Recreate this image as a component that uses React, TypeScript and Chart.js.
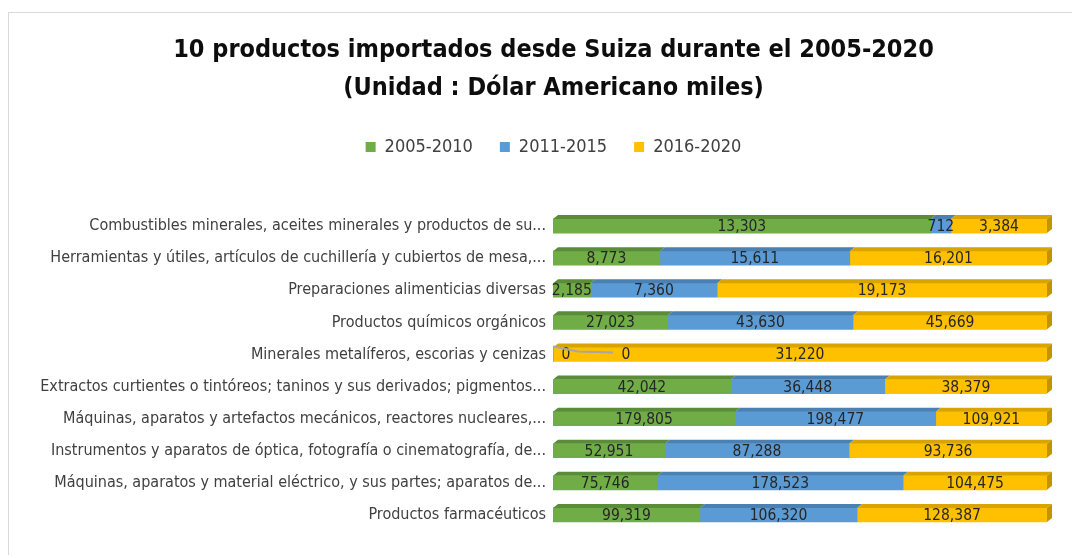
import React, { useEffect, useRef } from "react";
import { Chart, registerables } from "chart.js";

Chart.register(...registerables);

const categories = [
  "Combustibles minerales, aceites minerales y productos de su...",
  "Herramientas y útiles, artículos de cuchillería y cubiertos de mesa,...",
  "Preparaciones alimenticias diversas",
  "Productos químicos orgánicos",
  "Minerales metalíferos, escorias y cenizas",
  "Extractos curtientes o tintóreos; taninos y sus derivados; pigmentos...",
  "Máquinas, aparatos y artefactos mecánicos, reactores nucleares,...",
  "Instrumentos y aparatos de óptica, fotografía o cinematografía, de...",
  "Máquinas, aparatos y material eléctrico, y sus partes; aparatos de...",
  "Productos farmacéuticos",
];

const seriesNames = ["2005-2010", "2011-2015", "2016-2020"];
const values2005_2010 = [13303, 8773, 2185, 27023, 0, 42042, 179805, 52951, 75746, 99319];
const values2011_2015 = [712, 15611, 7360, 43630, 0, 36448, 198477, 87288, 178523, 106320];
const values2016_2020 = [3384, 16201, 19173, 45669, 31220, 38379, 109921, 93736, 104475, 128387];

const titleLines = [
  "10 productos importados desde Suiza durante el 2005-2020",
  "(Unidad : Dólar Americano miles)",
];

const colors = ["#70AD47", "#5B9BD5", "#FFC000"];
const topColors = ["#5A8D38", "#4A80B2", "#D9A300"];
const sideColors = ["#4F7D31", "#3F6F9C", "#C49300"];

const FONT = '"Liberation Sans Narrow", "DejaVu Sans Condensed", "Liberation Sans", sans-serif';

const rawSeries = [values2005_2010, values2011_2015, values2016_2020];
const totals = categories.map((_, i) => rawSeries.reduce((s, arr) => s + arr[i], 0));

const fmt = (v: number) => v.toLocaleString("en-US");

const bar3dPlugin = {
  id: "bar3d",
  afterDatasetsDraw(chart: any) {
    const ctx = chart.ctx;
    const dx = 5;
    const dy = 4;
    ctx.save();
    const metas = chart.data.datasets.map((_: any, i: number) => chart.getDatasetMeta(i));
    metas.forEach((meta: any, di: number) => {
      meta.data.forEach((el: any) => {
        const p = el.getProps(["x", "y", "base", "height"], true);
        const x0 = Math.min(p.base, p.x);
        const x1 = Math.max(p.base, p.x);
        if (x1 - x0 < 0.5) return;
        const top = p.y - p.height / 2;
        ctx.fillStyle = topColors[di];
        ctx.beginPath();
        ctx.moveTo(x0, top);
        ctx.lineTo(x1, top);
        ctx.lineTo(x1 + dx, top - dy);
        ctx.lineTo(x0 + dx, top - dy);
        ctx.closePath();
        ctx.fill();
      });
    });
    const last = metas.length - 1;
    metas[last].data.forEach((el: any) => {
      const p = el.getProps(["x", "y", "base", "height"], true);
      const top = p.y - p.height / 2;
      const bottom = p.y + p.height / 2;
      ctx.fillStyle = sideColors[last];
      ctx.beginPath();
      ctx.moveTo(p.x, top);
      ctx.lineTo(p.x + dx, top - dy);
      ctx.lineTo(p.x + dx, bottom - dy);
      ctx.lineTo(p.x, bottom);
      ctx.closePath();
      ctx.fill();
    });
    ctx.font = `15.5px ${FONT}`;
    ctx.fillStyle = "#262626";
    ctx.textAlign = "center";
    ctx.textBaseline = "middle";
    metas.forEach((meta: any, di: number) => {
      meta.data.forEach((el: any, i: number) => {
        const p = el.getProps(["x", "y", "base", "height"], true);
        const raw = rawSeries[di][i];
        let cx = (p.x + p.base) / 2;
        if (raw === 0) {
          cx = p.base + 13 + di * 60;
          if (di === 1) {
            const top = p.y - p.height / 2;
            ctx.save();
            ctx.strokeStyle = "#A6A6A6";
            ctx.lineWidth = 2;
            ctx.beginPath();
            ctx.moveTo(p.base, top - 1);
            ctx.lineTo(p.base + 25, top + 4);
            ctx.lineTo(p.base + 60, top + 5);
            ctx.stroke();
            ctx.restore();
          }
        }
        ctx.fillText(fmt(raw), cx, p.y + 1);
      });
    });
    ctx.restore();
  },
};

export default function App() {
  const canvasRef = useRef<HTMLCanvasElement | null>(null);

  useEffect(() => {
    if (!canvasRef.current) return;
    const datasets = rawSeries.map((arr, di) => ({
      label: seriesNames[di],
      data: arr.map((v, i) => (v / totals[i]) * 100),
      backgroundColor: colors[di],
      borderWidth: 0,
      barThickness: 14,
    }));
    const chart = new Chart(canvasRef.current, {
      type: "bar",
      data: { labels: categories, datasets },
      plugins: [bar3dPlugin],
      options: {
        indexAxis: "y",
        responsive: false,
        animation: false,
        layout: { padding: { left: 0, right: 0, top: 0, bottom: 24 } },
        plugins: {
          title: {
            display: true,
            text: titleLines,
            color: "#0D0D0D",
            font: { family: FONT, size: 25, weight: "bold", lineHeight: 38 / 25 },
            padding: { top: 18, bottom: 4 },
          },
          legend: {
            display: true,
            position: "top",
            labels: {
              boxWidth: 10,
              boxHeight: 10,
              padding: 27,
              color: "#404040",
              font: { family: FONT, size: 18 },
            },
          },
          tooltip: { enabled: false },
        },
        scales: {
          x: {
            type: "linear",
            position: "top",
            stacked: true,
            min: 0,
            max: 100,
            display: true,
            grid: { display: false, drawTicks: false },
            border: { display: false },
            ticks: { display: false },
            afterFit: (s: any) => {
              s.height = 44;
            },
          },
          y: {
            type: "category",
            position: "left",
            stacked: true,
            grid: { display: false, drawTicks: false },
            border: { display: false },
            ticks: {
              autoSkip: false,
              padding: 7,
              color: "#404040",
              font: { family: FONT, size: 16 },
            },
            afterFit: (s: any) => {
              s.width = 544;
            },
          },
          y2: {
            type: "linear",
            axis: "y",
            position: "right",
            display: true,
            grid: { display: false, drawTicks: false },
            border: { display: false },
            ticks: { display: false },
            afterFit: (s: any) => {
              s.width = 51;
            },
          },
        },
      } as any,
    });
    return () => chart.destroy();
  }, []);

  return (
    <div
      style={{
        marginTop: 4,
        width: 1071,
        height: 542,
        borderTop: "1px solid #D9D9D9",
        borderLeft: "1px solid #D9D9D9",
        overflow: "hidden",
        background: "#FFFFFF",
      }}
    >
      <canvas ref={canvasRef} width={1089} height={542} style={{ display: "block" }} />
    </div>
  );
}
